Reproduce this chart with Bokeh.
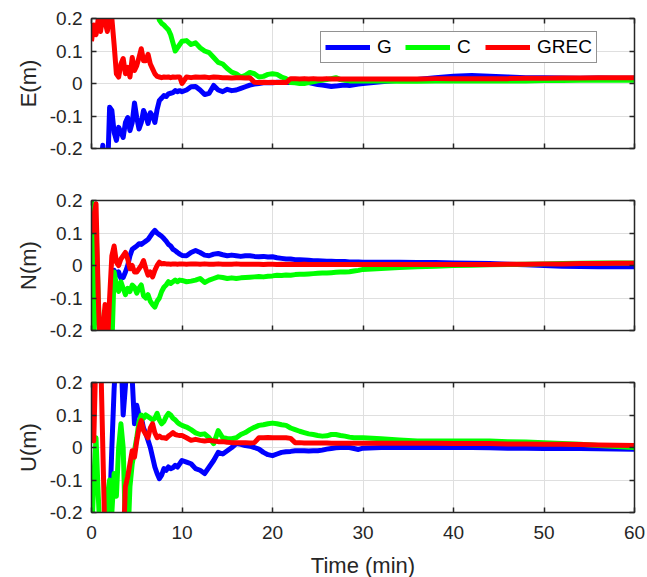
from bokeh.plotting import figure
from bokeh.models import Range1d, FixedTicker, LinearAxis, Legend, LegendItem, CustomLabelingPolicy
from bokeh.layouts import column
from bokeh.embed import file_html
from bokeh.resources import INLINE

# ---------------- data ----------------
T = ([0, 0.25, 0.5, 0.75, 1, 1.25, 1.5, 1.75, 2, 2.25, 2.5, 2.75, 3, 3.25, 3.5, 3.75,
      4, 4.25, 4.5, 4.75, 5, 5.25, 5.5, 5.75, 6, 6.25, 6.5, 6.75, 7, 7.25, 7.5, 7.75,
      8, 8.25, 8.5, 8.75, 9, 9.25, 9.5, 9.75]
     + [10, 10.5, 11, 11.5, 12, 12.5, 13, 13.5, 14, 14.5, 15, 15.5, 16, 16.5, 17, 17.5,
        18, 18.5, 19, 19.5, 20, 20.5, 21, 21.5, 22, 22.5, 23, 23.5, 24, 24.5, 25, 25.5,
        26, 26.5, 27, 27.5, 28, 28.5, 29, 29.5]
     + [30, 32, 34, 36, 38, 40, 42, 44, 46, 48, 50, 52, 54, 56, 58, 60])

SERIES_NAMES = ["G", "C", "GREC"]
PANEL_LABELS = ["E(m)", "N(m)", "U(m)"]
XTICKS = [0, 10, 20, 30, 40, 50, 60]
XTICK_LABELS = ["0", "10", "20", "30", "40", "50", "60"]
YTICKS = [-0.2, -0.1, 0, 0.1, 0.2]
YTICK_LABELS = ["-0.2", "-0.1", "0", "0.1", "0.2"]
X_TITLE = "Time (min)"

# East
E_G = ([-0.35, -0.35, -0.32, -0.30, -0.26, -0.19, -0.28, -0.30, -0.073, -0.083,
        -0.15, -0.175, -0.135, -0.15, -0.166, -0.12, -0.105, -0.145, -0.12, -0.06,
        -0.105, -0.14, -0.12, -0.083, -0.10, -0.123, -0.09, -0.10, -0.12, -0.08,
        -0.052, -0.045, -0.037, -0.04, -0.032, -0.03, -0.028, -0.022, -0.025, -0.022]
       + [-0.025, -0.02, -0.01, -0.009, -0.02, -0.034, -0.03, -0.006, -0.02, -0.025,
          -0.018, -0.022, -0.02, -0.015, -0.01, -0.005, -0.002, 0.0, 0.002, 0.003,
          0.002, 0.004, 0.003, 0.004, 0.003, 0.004, 0.005, 0.004, 0.003, 0.0,
          -0.003, -0.005, -0.007, -0.009, -0.008, -0.006, -0.005, -0.006, -0.004, -0.002]
       + [0.0, 0.005, 0.01, 0.012, 0.018, 0.022, 0.025, 0.022, 0.02, 0.018,
          0.018, 0.017, 0.016, 0.017, 0.016, 0.016])
E_C = ([0.3, 0.3, 0.3, 0.3, 0.3, 0.3, 0.3, 0.3, 0.3, 0.3,
        0.3, 0.3, 0.3, 0.3, 0.3, 0.3, 0.3, 0.3, 0.3, 0.3,
        0.3, 0.3, 0.3, 0.3, 0.3, 0.3, 0.3, 0.3, 0.25, 0.22,
        0.195, 0.185, 0.18, 0.172, 0.165, 0.15, 0.125, 0.10, 0.11, 0.12]
       + [0.13, 0.132, 0.12, 0.125, 0.11, 0.10, 0.095, 0.08, 0.065, 0.06,
          0.046, 0.035, 0.03, 0.02, 0.025, 0.034, 0.03, 0.02, 0.022, 0.028,
          0.03, 0.028, 0.02, 0.015, 0.003, 0.002, 0.0, 0.0, 0.003, 0.005,
          0.008, 0.01, 0.012, 0.015, 0.018, 0.012, 0.01, 0.008, 0.008, 0.008]
       + [0.008, 0.008, 0.007, 0.007, 0.008, 0.008, 0.008, 0.008, 0.008, 0.008,
          0.009, 0.009, 0.01, 0.01, 0.01, 0.01])
E_R = ([0.13, 0.18, 0.15, 0.20, 0.16, 0.21, 0.19, 0.16, 0.21, 0.20,
        0.12, 0.03, 0.02, 0.06, 0.077, 0.03, 0.05, 0.02, 0.08, 0.04,
        0.055, 0.08, 0.107, 0.07, 0.07, 0.09, 0.06, 0.045, 0.03, 0.022,
        0.02, 0.018, 0.02, 0.019, 0.02, 0.018, 0.02, 0.019, 0.02, 0.02]
       + [0.0, 0.02, 0.018, 0.02, 0.019, 0.02, 0.018, 0.02, 0.019, 0.018,
          0.018, 0.017, 0.018, 0.018, 0.017, 0.018, 0.004, 0.003, 0.004, 0.003,
          0.004, 0.003, 0.004, 0.003, 0.015, 0.015, 0.014, 0.015, 0.014, 0.015,
          0.014, 0.014, 0.015, 0.014, 0.014, 0.014, 0.014, 0.014, 0.014, 0.014]
       + [0.014, 0.014, 0.014, 0.014, 0.015, 0.015, 0.015, 0.015, 0.015, 0.016,
          0.016, 0.017, 0.017, 0.018, 0.018, 0.018])

# North
N_G = ([-0.3, -0.3, -0.3, -0.3, -0.3, -0.3, -0.3, -0.3, -0.3, -0.02,
        -0.015, -0.03, -0.02, -0.04, -0.037, -0.02, 0.0, 0.03, 0.05, 0.055,
        0.06, 0.067, 0.065, 0.07, 0.075, 0.08, 0.09, 0.1, 0.108, 0.1,
        0.095, 0.09, 0.083, 0.075, 0.065, 0.06, 0.05, 0.046, 0.04, 0.035]
       + [0.031, 0.03, 0.04, 0.046, 0.04, 0.032, 0.03, 0.035, 0.037, 0.033,
          0.03, 0.032, 0.03, 0.028, 0.03, 0.03, 0.028, 0.027, 0.028, 0.026,
          0.027, 0.024, 0.022, 0.02, 0.02, 0.018, 0.018, 0.017, 0.016, 0.015,
          0.015, 0.014, 0.013, 0.013, 0.012, 0.012, 0.012, 0.011, 0.011, 0.011]
       + [0.01, 0.01, 0.01, 0.009, 0.009, 0.008, 0.007, 0.006, 0.004, 0.002,
          0.0, -0.002, -0.003, -0.004, -0.004, -0.004])
N_C = ([0.2, -0.25, 0.12, -0.1, -0.3, -0.3, -0.3, -0.3, -0.3, -0.25,
        -0.02, -0.06, -0.08, -0.05, -0.07, -0.09, -0.07, -0.08, -0.06, -0.067,
        -0.085, -0.07, -0.06, -0.093, -0.1, -0.09, -0.11, -0.12, -0.128, -0.11,
        -0.1, -0.08, -0.067, -0.06, -0.05, -0.055, -0.05, -0.045, -0.05, -0.045]
       + [-0.046, -0.05, -0.048, -0.045, -0.04, -0.052, -0.045, -0.04, -0.035, -0.037,
          -0.04, -0.038, -0.04, -0.038, -0.037, -0.036, -0.035, -0.034, -0.035, -0.033,
          -0.032, -0.03, -0.031, -0.029, -0.03, -0.028, -0.027, -0.027, -0.026, -0.025,
          -0.024, -0.023, -0.023, -0.022, -0.021, -0.02, -0.02, -0.019, -0.017, -0.015]
       + [-0.012, -0.009, -0.006, -0.004, -0.002, 0.0, 0.001, 0.002, 0.003, 0.004,
          0.005, 0.006, 0.007, 0.008, 0.008, 0.008])
N_R = ([0.1, 0.15, 0.19, -0.1, -0.3, -0.2, -0.12, -0.25, -0.1, 0.03,
        0.06, 0.01, 0.0, 0.02, 0.03, 0.04, 0.02, -0.01, 0.0, -0.02,
        -0.02, -0.01, 0.0, 0.015, -0.01, -0.03, -0.02, -0.035, -0.015, 0.0,
        0.01, 0.005, 0.006, 0.005, 0.005, 0.004, 0.005, 0.005, 0.004, 0.005]
       + [0.005, 0.004, 0.005, 0.005, 0.004, 0.005, 0.004, 0.004, 0.005, 0.004,
          0.004, 0.004, 0.005, 0.004, 0.004, 0.004, 0.004, 0.004, 0.003, 0.004,
          0.004, 0.003, 0.004, 0.003, 0.004, 0.003, 0.003, 0.004, 0.003, 0.003,
          0.003, 0.003, 0.003, 0.003, 0.003, 0.003, 0.003, 0.003, 0.003, 0.003]
       + [0.003, 0.003, 0.003, 0.003, 0.003, 0.003, 0.003, 0.003, 0.004, 0.004,
          0.005, 0.005, 0.006, 0.006, 0.007, 0.007])

# Up
U_G = ([-0.3, -0.3, -0.3, -0.3, -0.3, -0.3, -0.3, -0.3, -0.2, 0.0,
        0.18, 0.3, 0.3, 0.3, 0.1, 0.19, 0.3, 0.3, 0.21, 0.073,
        0.13, 0.1, 0.092, 0.06, 0.043, 0.022, 0.0, -0.03, -0.06, -0.08,
        -0.096, -0.085, -0.065, -0.07, -0.06, -0.065, -0.062, -0.055, -0.06, -0.05]
       + [-0.04, -0.045, -0.05, -0.065, -0.07, -0.08, -0.06, -0.04, -0.015, -0.02,
          -0.01, 0.0, 0.012, 0.01, 0.006, 0.004, 0.0, -0.005, -0.015, -0.022,
          -0.025, -0.02, -0.015, -0.013, -0.012, -0.01, -0.01, -0.01, -0.011, -0.01,
          -0.01, -0.008, -0.005, -0.003, -0.001, 0.0, 0.0, 0.0, -0.003, -0.006]
       + [-0.002, 0.0, 0.0, 0.0, 0.0, 0.0, 0.0, -0.001, -0.002, -0.002,
          -0.003, -0.003, -0.003, -0.004, -0.005, -0.005])
U_C = ([-0.3, -0.1, 0.03, -0.15, -0.3, -0.3, -0.3, -0.15, -0.1, -0.2,
        -0.08, -0.15, 0.0, 0.073, 0.0, -0.25, -0.3, -0.12, -0.05, -0.01,
        0.03, 0.08, 0.1, 0.09, 0.1, 0.095, 0.09, 0.085, 0.09, 0.105,
        0.085, 0.073, 0.08, 0.095, 0.105, 0.1, 0.09, 0.085, 0.077, 0.072]
       + [0.068, 0.063, 0.055, 0.045, 0.04, 0.042, 0.03, 0.012, 0.052, 0.03,
          0.028, 0.027, 0.03, 0.04, 0.046, 0.055, 0.062, 0.068, 0.07, 0.073,
          0.075, 0.073, 0.07, 0.068, 0.06, 0.055, 0.05, 0.046, 0.042, 0.04,
          0.037, 0.035, 0.036, 0.04, 0.04, 0.037, 0.035, 0.032, 0.03, 0.03]
       + [0.03, 0.027, 0.023, 0.02, 0.02, 0.02, 0.02, 0.02, 0.018, 0.017,
          0.015, 0.012, 0.01, 0.006, 0.003, 0.0])
U_R = ([0.2, 0.02, 0.3, 0.3, 0.3, 0.0, -0.3, -0.3, -0.3, -0.3,
        -0.3, -0.3, -0.3, -0.3, -0.3, -0.12, -0.09, -0.05, -0.01, -0.03,
        0.02, 0.06, 0.083, 0.052, 0.04, 0.03, 0.06, 0.073, 0.045, 0.03,
        0.035, 0.03, 0.03, 0.028, 0.035, 0.04, 0.046, 0.04, 0.038, 0.037]
       + [0.037, 0.03, 0.022, 0.025, 0.022, 0.02, 0.022, 0.02, 0.018, 0.018,
          0.016, 0.015, 0.015, 0.015, 0.015, 0.014, 0.015, 0.03, 0.03, 0.031,
          0.03, 0.03, 0.03, 0.03, 0.028, 0.015, 0.015, 0.014, 0.014, 0.014,
          0.014, 0.014, 0.014, 0.013, 0.013, 0.013, 0.013, 0.013, 0.013, 0.013]
       + [0.013, 0.013, 0.013, 0.013, 0.013, 0.012, 0.012, 0.012, 0.011, 0.011,
          0.01, 0.01, 0.009, 0.008, 0.007, 0.006])

# ---------------- style ----------------
FONT = "Liberation Sans"
AX = "#262626"
GRID = "#dfdfdf"
COLORS = ["#0000ff", "#00ff00", "#ff0000"]
LW = 5
FRAME_W, FRAME_H = 543, 130

NO_LABELS = "for (const i of indices) indices.unset(i); return indices"


def style_axis(ax, ticks, labels, show_labels):
    ax.ticker = FixedTicker(ticks=ticks)
    ax.axis_line_color = AX
    ax.axis_line_width = 1.5
    ax.major_tick_line_color = AX
    ax.major_tick_line_width = 1.5
    ax.major_tick_in = 5
    ax.major_tick_out = 0
    ax.minor_tick_line_color = None
    ax.major_label_text_font = FONT
    ax.major_label_text_color = AX
    if show_labels:
        ax.major_label_overrides = dict(zip(ticks, labels))
        ax.major_label_text_font_size = "19px"
    else:
        ax.major_label_policy = CustomLabelingPolicy(code=NO_LABELS)
        ax.major_label_text_font_size = "1px"
        ax.major_label_standoff = 0


def make_panel(ylabel, ys, top, bottom, last=False, legend=False):
    p = figure(frame_width=FRAME_W, frame_height=FRAME_H,
               x_range=Range1d(0, 60), y_range=Range1d(-0.2, 0.2),
               output_backend="svg", toolbar_location=None,
               min_border_left=91, min_border_right=13,
               min_border_top=top, min_border_bottom=bottom)
    p.background_fill_color = "white"
    p.border_fill_color = "white"
    p.outline_line_color = AX
    p.outline_line_width = 1

    xa = p.xaxis[0]
    style_axis(xa, XTICKS, XTICK_LABELS, last)
    if last:
        xa.major_label_standoff = 13
        xa.axis_label = X_TITLE
        xa.axis_label_text_font = FONT
        xa.axis_label_text_font_size = "22px"
        xa.axis_label_text_font_style = "normal"
        xa.axis_label_text_color = AX
        xa.axis_label_standoff = 11

    ya = p.yaxis[0]
    style_axis(ya, YTICKS, YTICK_LABELS, True)
    ya.major_label_standoff = 9
    ya.axis_label = ylabel
    ya.axis_label_text_font = FONT
    ya.axis_label_text_font_size = "22px"
    ya.axis_label_text_font_style = "normal"
    ya.axis_label_text_color = AX
    ya.axis_label_standoff = 6

    top_ax = LinearAxis()
    style_axis(top_ax, XTICKS, XTICK_LABELS, False)
    p.add_layout(top_ax, "above")
    right_ax = LinearAxis()
    style_axis(right_ax, YTICKS, YTICK_LABELS, False)
    p.add_layout(right_ax, "right")

    p.xgrid.ticker = FixedTicker(ticks=XTICKS)
    p.ygrid.ticker = FixedTicker(ticks=YTICKS)
    p.xgrid.grid_line_color = GRID
    p.ygrid.grid_line_color = GRID

    rs = []
    for y, col in zip(ys, COLORS):
        r = p.line(T, y, line_color=col, line_width=LW, line_join="round")
        rs.append(r)

    if legend:
        items = [LegendItem(label=n, renderers=[r]) for n, r in zip(SERIES_NAMES, rs)]
        lg = Legend(items=items, orientation="horizontal", location=(229, 85),
                    label_text_font=FONT, label_text_font_size="19px",
                    label_text_color="black",
                    glyph_width=45, glyph_height=18, label_height=18,
                    label_standoff=7, spacing=8, padding=4, margin=0,
                    border_line_color=AX, border_line_width=1,
                    background_fill_color="white", background_fill_alpha=1.0)
        p.add_layout(lg, "center")
    return p


p1 = make_panel(PANEL_LABELS[0], [E_G, E_C, E_R], 18, 26, legend=True)
p2 = make_panel(PANEL_LABELS[1], [N_G, N_C, N_R], 26, 26)
p3 = make_panel(PANEL_LABELS[2], [U_G, U_C, U_R], 26, 65, last=True)

p = column(p1, p2, p3, spacing=0)
open("out.html", "w").write(file_html(p, INLINE))
